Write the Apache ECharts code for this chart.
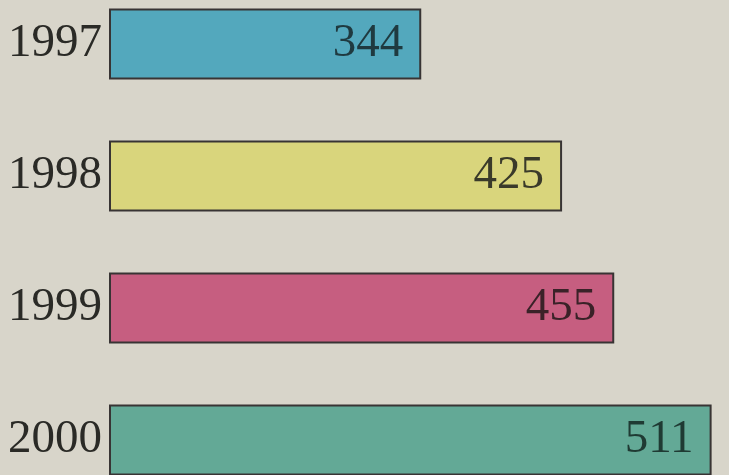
<!DOCTYPE html>
<html>
<head>
<meta charset="utf-8">
<script src="https://cdn.jsdelivr.net/npm/echarts@6/dist/echarts.min.js"></script>
<style>
html,body{margin:0;padding:0;background:#d8d5ca;overflow:hidden;width:729px;height:475px;}
#chart{position:absolute;left:0;top:-22px;width:729px;height:528px;}
</style>
</head>
<body>
<div id="chart"></div>
<script>
const categories = ['1997', '1998', '1999', '2000'];
const values = [344, 425, 455, 511];
const barColors = ['#53a8bd', '#d9d57c', '#c65e80', '#63a996'];
const labelColors = ['#1f3a40', '#3a3a2a', '#3a2228', '#1f3a33'];

const chart = echarts.init(document.getElementById('chart'));
chart.setOption({
  backgroundColor: '#d8d5ca',
  animation: false,
  grid: { left: 110, right: 0, top: 0, bottom: 0, containLabel: false },
  xAxis: {
    type: 'value', min: 165, max: 521,
    show: false
  },
  yAxis: {
    type: 'category', data: categories, inverse: true,
    axisLine: { show: false }, axisTick: { show: false }, splitLine: { show: false },
    axisLabel: {
      margin: 8, fontFamily: 'Liberation Serif', fontSize: 47, color: '#2a2a26'
    }
  },
  series: [{
    type: 'bar',
    barWidth: 71,
    data: values.map((v, i) => ({
      value: v,
      itemStyle: { color: barColors[i] },
      label: { color: labelColors[i] }
    })),
    itemStyle: { borderColor: '#383434', borderWidth: 2 },
    label: {
      show: true, position: 'insideRight', distance: 18,
      fontFamily: 'Liberation Serif', fontSize: 47
    }
  }]
});
</script>
</body>
</html>
